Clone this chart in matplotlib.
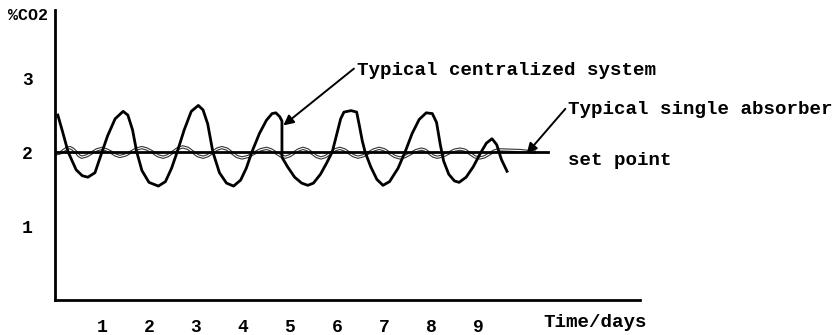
import matplotlib
matplotlib.use("Agg")
import matplotlib.pyplot as plt
import matplotlib.patheffects as pe

# ---- data ----
cent_days = [0.06, 0.15, 0.28, 0.45, 0.58, 0.7, 0.85, 1.0, 1.12, 1.28, 1.45, 1.55, 1.65, 1.74,
             1.85, 2.0, 2.2, 2.35, 2.48, 2.6, 2.75, 2.9, 3.05, 3.15, 3.25, 3.36, 3.5, 3.65, 3.8,
             3.95, 4.07, 4.19, 4.35, 4.5, 4.62, 4.7, 4.78, 4.83, 4.83, 4.95, 5.1, 5.25, 5.38,
             5.5, 5.65, 5.78, 5.9, 6.0, 6.08, 6.15, 6.3, 6.42, 6.48, 6.54, 6.6, 6.72, 6.85, 6.98,
             7.12, 7.3, 7.45, 7.6, 7.75, 7.9, 8.03, 8.12, 8.2, 8.27, 8.38, 8.5, 8.6,
             8.75, 8.9, 9.05, 9.18, 9.3, 9.4, 9.5, 9.62]
cent_vals = [2.50, 2.30, 2.00, 1.76, 1.68, 1.66, 1.72, 2.00, 2.22, 2.45, 2.55, 2.50, 2.30, 2.00,
             1.75, 1.59, 1.54, 1.60, 1.78, 2.00, 2.30, 2.55, 2.63, 2.57, 2.38, 2.00, 1.72, 1.58, 1.54,
             1.62, 1.78, 2.00, 2.25, 2.43, 2.52, 2.53, 2.48, 2.42, 1.93, 1.80, 1.66, 1.58, 1.55,
             1.58, 1.70, 1.85, 2.00, 2.25, 2.45, 2.54, 2.56, 2.54, 2.35, 2.15, 2.00, 1.80, 1.63, 1.55,
             1.60, 1.78, 2.00, 2.25, 2.44, 2.53, 2.52, 2.40, 2.10, 1.88, 1.70, 1.61, 1.59,
             1.66, 1.80, 1.98, 2.12, 2.18, 2.10, 1.90, 1.74]

single_days = [0.05, 0.12, 0.18, 0.25, 0.32, 0.38, 0.445, 0.51, 0.57, 0.68, 0.785, 0.89, 1.0,
               1.095, 1.19, 1.285, 1.38, 1.5, 1.615, 1.73, 1.85, 1.96, 2.075, 2.19, 2.3,
               2.4, 2.51, 2.62, 2.72, 2.83, 2.935, 3.04, 3.15, 3.25, 3.35, 3.45, 3.55,
               3.66, 3.765, 3.87, 3.98, 4.11, 4.24, 4.37, 4.5, 4.6, 4.7, 4.8, 4.9,
               4.995, 5.09, 5.185, 5.28, 5.375, 5.47, 5.565, 5.66, 5.76, 5.86, 5.96, 6.06,
               6.16, 6.255, 6.35, 6.45, 6.56, 6.675, 6.79, 6.9, 7.01, 7.12, 7.23, 7.34,
               7.455, 7.57, 7.685, 7.8, 7.88, 7.965, 8.05, 8.13, 8.25, 8.375, 8.5, 8.62,
               8.725, 8.83, 8.935, 9.04, 9.14, 9.245, 9.35, 9.45, 9.9, 10.2]
single_vals = [1.98, 1.99, 2.02, 2.05, 2.06, 2.04, 2.00, 1.95, 1.93, 1.95, 1.99, 2.03, 2.05,
               2.03, 2.00, 1.96, 1.94, 1.96, 2.00, 2.04, 2.06, 2.04, 2.00, 1.95, 1.93,
               1.95, 2.00, 2.05, 2.07, 2.05, 2.00, 1.95, 1.93, 1.95, 1.995, 2.04, 2.06,
               2.04, 1.99, 1.94, 1.92, 1.94, 1.985, 2.03, 2.05, 2.03, 1.99, 1.95, 1.93,
               1.95, 1.99, 2.03, 2.05, 2.03, 1.985, 1.94, 1.92, 1.94, 1.985, 2.03, 2.05,
               2.03, 1.99, 1.95, 1.93, 1.95, 1.99, 2.03, 2.05, 2.03, 1.985, 1.94, 1.92,
               1.94, 1.98, 2.02, 2.04, 2.025, 1.985, 1.945, 1.93, 1.945, 1.985, 2.025, 2.04,
               2.025, 1.98, 1.935, 1.92, 1.935, 1.975, 2.015, 2.03, 2.02, 2.00]

setpoint_days = [0.0, 10.5]
setpoint_vals = [2.0, 2.0]

x_ticks = [1, 2, 3, 4, 5, 6, 7, 8, 9]
y_ticks = [1, 2, 3]

# ---- figure ----
W, H = 837, 335
fig = plt.figure(figsize=(W / 100, H / 100), dpi=100)
ax = fig.add_axes([55 / W, 1 - 300 / H, (640 - 55) / W, (300 - 10) / H])
ax.set_xlim(0, 12.45)
ax.set_ylim(0, 3.92)

font = dict(family="Liberation Mono", weight="bold", size=13.8)
tick_font = dict(family="Liberation Mono", weight="bold", size=13)

ax.plot(single_days, single_vals, color="white", lw=0.8, solid_joinstyle="round",
        path_effects=[pe.Stroke(linewidth=2.4, foreground="#333333"), pe.Normal()])
ax.plot(setpoint_days, setpoint_vals, color="black", lw=2.0)
ax.plot(cent_days, cent_vals, color="black", lw=2.0, solid_joinstyle="round")

for s in ["top", "right"]:
    ax.spines[s].set_visible(False)
for s in ["left", "bottom"]:
    ax.spines[s].set_linewidth(2.0)

ax.set_xticks(x_ticks)
ax.set_xticklabels([str(t) for t in x_ticks], fontdict=tick_font)
ax.set_yticks(y_ticks)
ax.set_yticklabels([str(t) for t in y_ticks], fontdict=tick_font)
ax.tick_params(axis="x", length=0, pad=14)
ax.tick_params(axis="y", length=0, pad=16)

ax.text(10.4, -0.3, "Time/days", ha="left", va="center", clip_on=False, **font)
fig.text(8 / W, 1 - 16 / H, "%CO2", ha="left", va="center", family="Liberation Mono",
         weight="bold", size=12)

arrow = dict(arrowstyle="-|>", lw=1.4, color="black", mutation_scale=15,
             shrinkA=0, shrinkB=0, relpos=(0.0, 0.75))
ax.annotate("Typical centralized system", xy=(4.86, 2.36), xytext=(6.42, 3.10),
            ha="left", va="center", arrowprops=arrow, annotation_clip=False, **font)
ax.annotate("Typical single absorber", xy=(10.04, 1.98), xytext=(10.92, 2.57),
            ha="left", va="center", arrowprops=arrow, annotation_clip=False, **font)
ax.text(10.92, 1.89, "set point", ha="left", va="center", clip_on=False, **font)

fig.savefig("out.png", dpi=100)
